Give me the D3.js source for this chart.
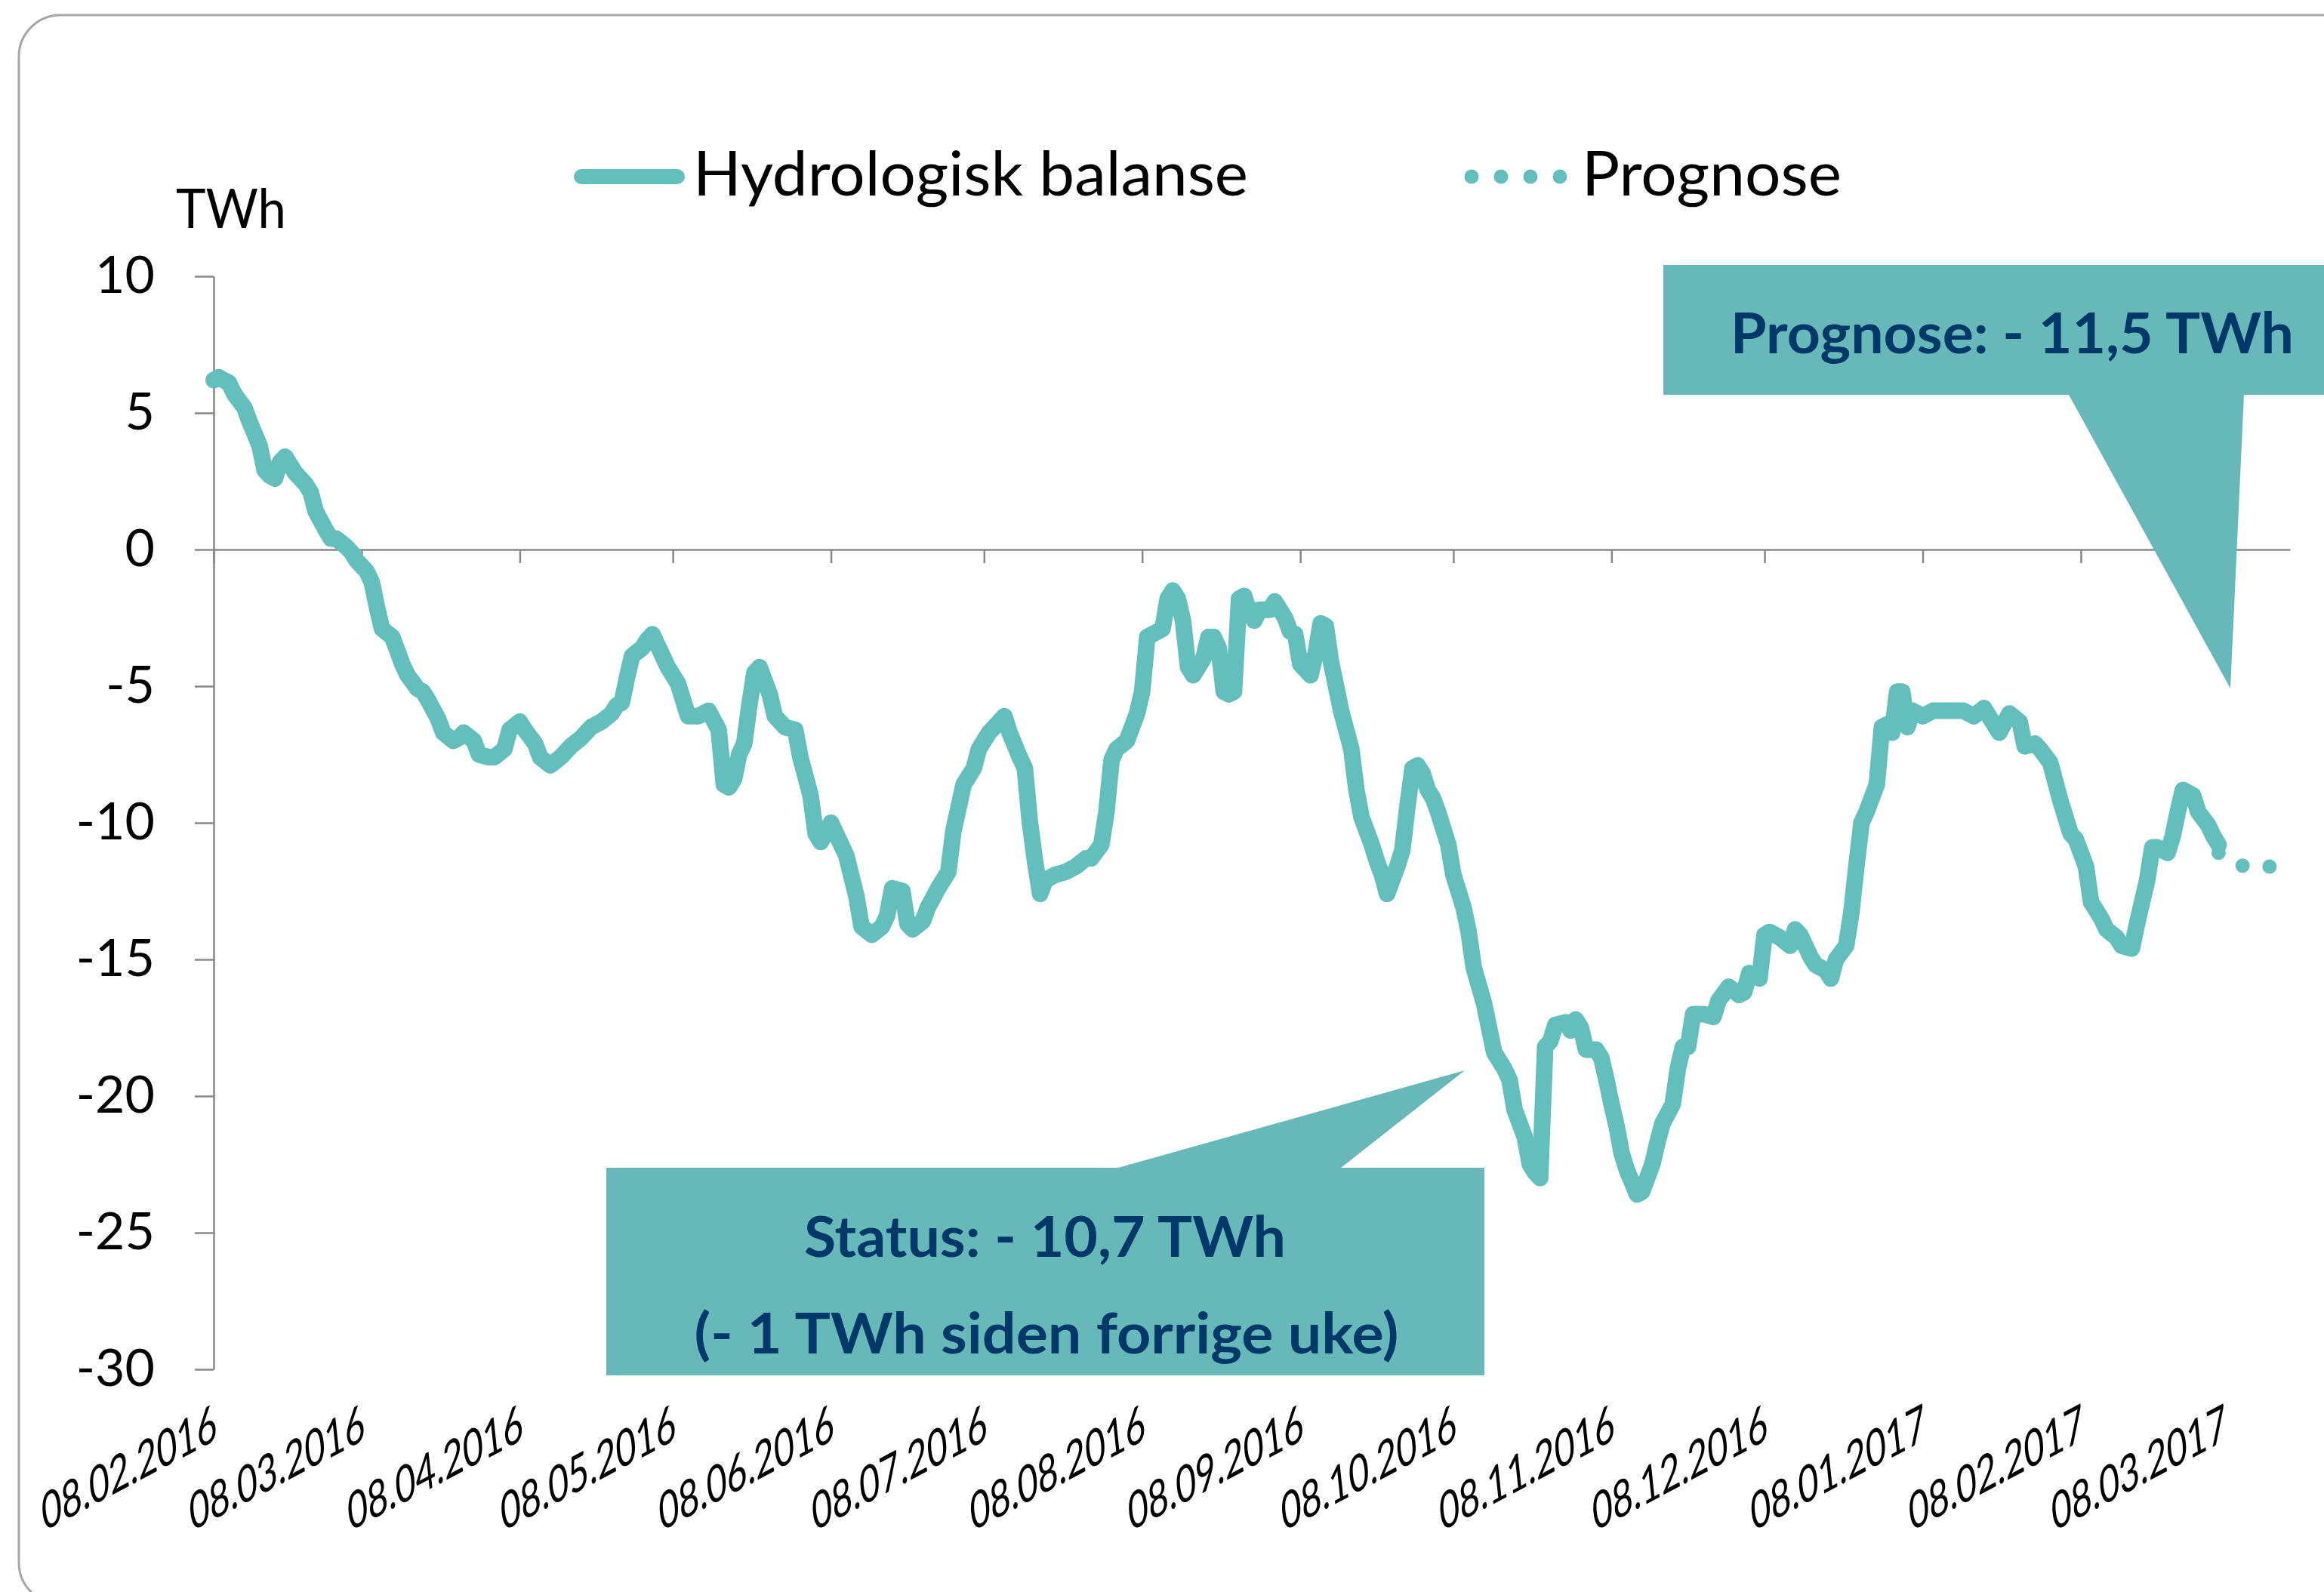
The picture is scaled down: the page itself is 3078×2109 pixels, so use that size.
<!DOCTYPE html>
<html>
<head>
<meta charset="utf-8">
<script src="https://cdn.jsdelivr.net/npm/d3@7"></script>
<style>
	html, body { margin: 0; padding: 0; background: #fff; }
	svg { display: block; }
	text { font-family: Lato, "Open Sans", sans-serif; }
</style>
</head>
<body>
<div id="chart"></div>
<script>

// Hydrologisk balanse, TWh
var dates = [
	"08.02.2016","09.02.2016","11.02.2016","12.02.2016","14.02.2016","15.02.2016","17.02.2016","18.02.2016","19.02.2016","20.02.2016",
	"21.02.2016","22.02.2016","23.02.2016","24.02.2016","26.02.2016","27.02.2016","28.02.2016","01.03.2016","02.03.2016","03.03.2016",
	"05.03.2016","06.03.2016","07.03.2016","09.03.2016","10.03.2016","11.03.2016","12.03.2016","14.03.2016","15.03.2016","16.03.2016",
	"17.03.2016","19.03.2016","20.03.2016","21.03.2016","23.03.2016","24.03.2016","26.03.2016","27.03.2016","28.03.2016","30.03.2016",
	"31.03.2016","02.04.2016","03.04.2016","05.04.2016","06.04.2016","08.04.2016","09.04.2016","11.04.2016","12.04.2016","14.04.2016",
	"16.04.2016","18.04.2016","20.04.2016","22.04.2016","24.04.2016","26.04.2016","27.04.2016","28.04.2016","29.04.2016","30.04.2016",
	"02.05.2016","03.05.2016","04.05.2016","05.05.2016","07.05.2016","09.05.2016","10.05.2016","11.05.2016","13.05.2016","15.05.2016",
	"17.05.2016","18.05.2016","19.05.2016","20.05.2016","21.05.2016","22.05.2016","23.05.2016","24.05.2016","25.05.2016","27.05.2016",
	"28.05.2016","30.05.2016","01.06.2016","02.06.2016","04.06.2016","05.06.2016","06.06.2016","08.06.2016","09.06.2016","11.06.2016",
	"13.06.2016","14.06.2016","16.06.2016","18.06.2016","19.06.2016","20.06.2016","22.06.2016","23.06.2016","24.06.2016","26.06.2016",
	"27.06.2016","29.06.2016","01.07.2016","02.07.2016","04.07.2016","06.07.2016","07.07.2016","09.07.2016","11.07.2016","12.07.2016",
	"13.07.2016","15.07.2016","16.07.2016","17.07.2016","18.07.2016","19.07.2016","20.07.2016","22.07.2016","24.07.2016","26.07.2016",
	"28.07.2016","29.07.2016","31.07.2016","01.08.2016","02.08.2016","03.08.2016","05.08.2016","06.08.2016","07.08.2016","08.08.2016",
	"09.08.2016","10.08.2016","12.08.2016","13.08.2016","14.08.2016","15.08.2016","16.08.2016","17.08.2016","18.08.2016","20.08.2016",
	"21.08.2016","22.08.2016","23.08.2016","24.08.2016","25.08.2016","26.08.2016","27.08.2016","28.08.2016","29.08.2016","30.08.2016",
	"31.08.2016","02.09.2016","03.09.2016","05.09.2016","06.09.2016","07.09.2016","08.09.2016","10.09.2016","11.09.2016","12.09.2016",
	"13.09.2016","14.09.2016","15.09.2016","16.09.2016","18.09.2016","19.09.2016","20.09.2016","22.09.2016","23.09.2016","24.09.2016",
	"25.09.2016","27.09.2016","28.09.2016","29.09.2016","30.09.2016","01.10.2016","02.10.2016","03.10.2016","04.10.2016","05.10.2016",
	"07.10.2016","08.10.2016","10.10.2016","11.10.2016","12.10.2016","14.10.2016","15.10.2016","16.10.2016","18.10.2016","19.10.2016",
	"20.10.2016","22.10.2016","23.10.2016","24.10.2016","25.10.2016","26.10.2016","27.10.2016","28.10.2016","30.10.2016","31.10.2016",
	"01.11.2016","02.11.2016","03.11.2016","05.11.2016","06.11.2016","07.11.2016","08.11.2016","09.11.2016","10.11.2016","11.11.2016",
	"13.11.2016","14.11.2016","16.11.2016","17.11.2016","18.11.2016","20.11.2016","21.11.2016","22.11.2016","23.11.2016","24.11.2016",
	"26.11.2016","28.11.2016","29.11.2016","01.12.2016","03.12.2016","04.12.2016","05.12.2016","07.12.2016","08.12.2016","09.12.2016",
	"11.12.2016","13.12.2016","14.12.2016","15.12.2016","17.12.2016","18.12.2016","20.12.2016","21.12.2016","22.12.2016","24.12.2016",
	"25.12.2016","26.12.2016","27.12.2016","28.12.2016","29.12.2016","30.12.2016","31.12.2016","01.01.2017","02.01.2017","03.01.2017",
	"04.01.2017","05.01.2017","06.01.2017","08.01.2017","10.01.2017","16.01.2017","18.01.2017","20.01.2017","21.01.2017","23.01.2017",
	"25.01.2017","27.01.2017","28.01.2017","30.01.2017","31.01.2017","02.02.2017","04.02.2017","06.02.2017","07.02.2017","09.02.2017",
	"10.02.2017","12.02.2017","13.02.2017","15.02.2017","16.02.2017","18.02.2017","19.02.2017","20.02.2017","21.02.2017","22.02.2017",
	"23.02.2017","25.02.2017","26.02.2017","27.02.2017","28.02.2017","02.03.2017","03.03.2017","05.03.2017","06.03.2017","07.03.2017"
]

var balanse = [
	6.2, 6.3, 6.1, 5.7, 5.2, 4.7, 3.8, 2.9, 2.7, 2.6,
	3.2, 3.4, 3.1, 2.8, 2.4, 2.1, 1.4, 0.7, 0.4, 0.4,
	0.1, -0.1, -0.4, -0.8, -1.2, -2.1, -2.9, -3.2, -3.7, -4.2,
	-4.6, -5.1, -5.2, -5.5, -6.2, -6.7, -7.0, -6.9, -6.7, -7.0,
	-7.5, -7.6, -7.6, -7.3, -6.6, -6.3, -6.6, -7.1, -7.6, -7.9,
	-7.6, -7.2, -6.9, -6.5, -6.3, -6.0, -5.7, -5.6, -4.7, -3.9,
	-3.6, -3.3, -3.1, -3.5, -4.3, -4.9, -5.5, -6.1, -6.1, -5.9,
	-6.6, -8.6, -8.7, -8.4, -7.5, -7.1, -5.7, -4.5, -4.3, -5.3,
	-6.1, -6.5, -6.6, -7.6, -9.0, -10.4, -10.7, -10.0, -10.4, -11.2,
	-12.7, -13.8, -14.1, -13.8, -13.4, -12.4, -12.5, -13.7, -13.9, -13.6,
	-13.1, -12.4, -11.8, -10.3, -8.6, -8.0, -7.3, -6.7, -6.3, -6.1,
	-6.7, -7.6, -8.0, -10.0, -11.4, -12.6, -12.1, -11.9, -11.8, -11.6,
	-11.3, -11.3, -10.8, -9.6, -7.7, -7.3, -7.0, -6.5, -6.0, -5.2,
	-3.2, -3.1, -2.9, -1.8, -1.5, -1.8, -2.6, -4.3, -4.6, -4.0,
	-3.2, -3.2, -3.6, -5.2, -5.3, -5.2, -1.8, -1.7, -2.3, -2.6,
	-2.2, -2.2, -1.9, -2.5, -3.0, -3.1, -4.2, -4.6, -3.8, -2.7,
	-2.8, -4.1, -5.0, -5.9, -7.3, -8.8, -9.8, -10.8, -11.4, -11.9,
	-12.6, -11.6, -11.0, -9.4, -8.0, -7.9, -8.2, -8.8, -9.1, -9.6,
	-10.8, -11.9, -13.1, -14.0, -15.3, -16.6, -17.5, -18.4, -19.0, -19.4,
	-20.5, -21.5, -22.5, -22.8, -23.0, -18.2, -18.0, -17.4, -17.3, -17.6,
	-17.2, -17.5, -18.3, -18.3, -18.6, -19.4, -20.3, -21.1, -22.1, -22.7,
	-23.6, -23.5, -22.5, -21.7, -21.0, -20.3, -19.0, -18.2, -18.2, -17.0,
	-17.0, -17.1, -16.5, -16.0, -16.3, -16.2, -15.5, -15.7, -14.1, -14.0,
	-14.2, -14.5, -13.9, -14.1, -14.9, -15.2, -15.4, -15.7, -15.0, -14.5,
	-13.3, -11.6, -10.0, -9.6, -9.1, -8.6, -6.5, -6.4, -6.7, -5.2,
	-5.2, -6.5, -5.9, -6.1, -5.9, -5.9, -6.1, -5.8, -6.1, -6.7,
	-6.0, -6.3, -7.2, -7.1, -7.3, -7.8, -9.2, -10.4, -10.6, -11.6,
	-12.9, -13.5, -13.9, -14.2, -14.5, -14.6, -13.7, -12.9, -12.1, -10.9,
	-10.9, -11.1, -10.5, -9.6, -8.8, -9.0, -9.6, -10.1, -10.5, -10.8
]

// Prognose
var prognoseDates = ["07.03.2017", "12.03.2017", "17.03.2017"]
var prognose = [-11.1, -11.6, -11.6]

var yTicks = [10, 5, 0, -5, -10, -15, -20, -25, -30]
var xTickLabels = ["08.02.2016","08.03.2016","08.04.2016","08.05.2016","08.06.2016","08.07.2016","08.08.2016",
	"08.09.2016","08.10.2016","08.11.2016","08.12.2016","08.01.2017","08.02.2017","08.03.2017"]
var xStart = "08.02.2016"
var xEnd = "21.03.2017"

var lineColor = "#62bfbb"
var boxColor = "#66b9b8"
var navy = "#00386a"
var axisColor = "#878787"

var width = 3078
var height = 2109
var margin = {top: 366, right: 45, bottom: 295, left: 283}

var parseDate = d3.timeParse("%d.%m.%Y")

var data = dates.map(function(d, i) { return {date: parseDate(d), value: balanse[i]} })
var prognoseData = prognoseDates.map(function(d, i) { return {date: parseDate(d), value: prognose[i]} })

var svg = d3.select("#chart").append("svg")
	.attr("width", width)
	.attr("height", height)

// outer frame with rounded corner
svg.append("rect")
	.attr("x", 25)
	.attr("y", 20)
	.attr("width", 3300)
	.attr("height", 2105)
	.attr("rx", 55)
	.attr("fill", "#fff")
	.attr("stroke", "#a6a6a6")
	.attr("stroke-width", 3)

var x = d3.scaleTime()
	.domain([parseDate(xStart), parseDate(xEnd)])
	.range([margin.left, width - margin.right])

var y = d3.scaleLinear()
	.domain([-30, 10])
	.range([height - margin.bottom, margin.top])

// y axis
var yAxis = d3.axisLeft(y)
	.tickValues(yTicks)
	.tickSize(25)
	.tickSizeOuter(0)
	.tickPadding(53)
	.tickFormat(function(d) { return String(d) })

var gy = svg.append("g")
	.attr("class", "y axis")
	.attr("transform", "translate(" + margin.left + ",0)")
	.call(yAxis)

gy.selectAll("path, line").attr("stroke", axisColor).attr("stroke-width", 2.5)
gy.selectAll("text")
	.attr("fill", "#000")
	.style("font-family", "Lato, sans-serif")
	.style("font-size", "68px")

// x axis on the zero line, ticks only
var tickDates = xTickLabels.map(parseDate)

var xAxis = d3.axisBottom(x)
	.tickValues(tickDates)
	.tickSize(18)
	.tickSizeOuter(0)
	.tickFormat("")

var gx = svg.append("g")
	.attr("class", "x axis")
	.attr("transform", "translate(0," + y(0) + ")")
	.call(xAxis)

gx.selectAll("path, line").attr("stroke", axisColor).attr("stroke-width", 2.5)

// date labels below the plot, slanted
svg.append("g").attr("class", "x labels")
	.selectAll("text")
	.data(xTickLabels)
	.enter().append("text")
	.attr("transform", function(d) {
		return "translate(" + (x(parseDate(d)) + 6) + "," + (y(-30) + 92) + ") rotate(-28) skewX(-22)"
	})
	.attr("text-anchor", "end")
	.attr("textLength", 262)
	.attr("lengthAdjust", "spacingAndGlyphs")
	.style("font-size", "62px")
	.attr("fill", "#000")
	.text(function(d) { return d })

// series
var line = d3.line()
	.x(function(d) { return x(d.date) })
	.y(function(d) { return y(d.value) })

svg.append("path")
	.datum(data)
	.attr("d", line)
	.attr("fill", "none")
	.attr("stroke", lineColor)
	.attr("stroke-width", 22)
	.attr("stroke-linejoin", "round")
	.attr("stroke-linecap", "round")

svg.append("path")
	.datum(prognoseData)
	.attr("d", line)
	.attr("fill", "none")
	.attr("stroke", lineColor)
	.attr("stroke-width", 19)
	.attr("stroke-linecap", "round")
	.attr("stroke-dasharray", "0 36")

// unit
svg.append("text")
	.attr("x", 233)
	.attr("y", 302)
	.attr("textLength", 146)
	.attr("lengthAdjust", "spacingAndGlyphs")
	.style("font-size", "72px")
	.text("TWh")

// legend
var legend = svg.append("g").attr("class", "legend")

legend.append("line")
	.attr("x1", 770).attr("x2", 897)
	.attr("y1", 234).attr("y2", 234)
	.attr("stroke", lineColor)
	.attr("stroke-width", 20)
	.attr("stroke-linecap", "round")

legend.append("text")
	.attr("x", 918)
	.attr("y", 259)
	.attr("textLength", 735)
	.attr("lengthAdjust", "spacingAndGlyphs")
	.style("font-size", "81px")
	.text("Hydrologisk balanse")

legend.append("line")
	.attr("x1", 1949).attr("x2", 2068)
	.attr("y1", 234).attr("y2", 234)
	.attr("stroke", lineColor)
	.attr("stroke-width", 19)
	.attr("stroke-linecap", "round")
	.attr("stroke-dasharray", "0 39")

legend.append("text")
	.attr("x", 2095)
	.attr("y", 259)
	.attr("textLength", 344)
	.attr("lengthAdjust", "spacingAndGlyphs")
	.style("font-size", "81px")
	.text("Prognose")

// callouts
var callouts = svg.append("g").attr("class", "callouts")

callouts.append("path")
	.attr("d", "M2203,351H3100V523H2972L2954,912L2740,523H2203Z")
	.attr("fill", boxColor)

callouts.append("text")
	.attr("x", 2292)
	.attr("y", 468)
	.attr("textLength", 746)
	.attr("lengthAdjust", "spacingAndGlyphs")
	.attr("fill", navy)
	.style("font-size", "75px")
	.style("font-weight", "bold")
	.text("Prognose: - 11,5 TWh")

callouts.append("path")
	.attr("d", "M803,1547H1481L1940,1418L1776,1547H1966V1822H803Z")
	.attr("fill", boxColor)

callouts.append("text")
	.attr("x", 1384)
	.attr("y", 1665)
	.attr("text-anchor", "middle")
	.attr("textLength", 638)
	.attr("lengthAdjust", "spacingAndGlyphs")
	.attr("fill", navy)
	.style("font-size", "75px")
	.style("font-weight", "bold")
	.text("Status: - 10,7 TWh")

callouts.append("text")
	.attr("x", 1386)
	.attr("y", 1793)
	.attr("text-anchor", "middle")
	.attr("textLength", 933)
	.attr("lengthAdjust", "spacingAndGlyphs")
	.attr("fill", navy)
	.style("font-size", "75px")
	.style("font-weight", "bold")
	.text("(- 1 TWh siden forrige uke)")

</script>
</body>
</html>
